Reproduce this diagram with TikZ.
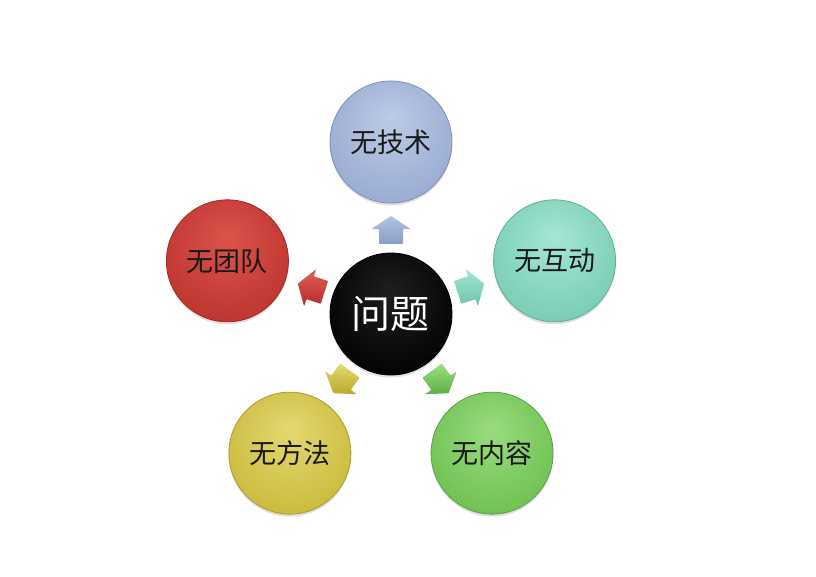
\documentclass[tikz,border=0pt]{standalone}
\usepackage{fontspec}
\newfontfamily\cjk{Noto Sans CJK SC}
\usetikzlibrary{shadows}
\definecolor{techIn}{HTML}{BCCBE6}\definecolor{techOut}{HTML}{95A8CF}
\definecolor{interIn}{HTML}{A6E6D4}\definecolor{interOut}{HTML}{74CBB2}
\definecolor{teamIn}{HTML}{DA544C}\definecolor{teamOut}{HTML}{BC322C}
\definecolor{methIn}{HTML}{E4D872}\definecolor{methOut}{HTML}{C8B838}
\definecolor{contIn}{HTML}{9ADC80}\definecolor{contOut}{HTML}{6BBE4E}
\definecolor{techAL}{HTML}{B4C4E0}\definecolor{techAD}{HTML}{8A9DC4}
\definecolor{interAL}{HTML}{A4E6D4}\definecolor{interAD}{HTML}{6CC4AC}
\definecolor{teamAL}{HTML}{E0615A}\definecolor{teamAD}{HTML}{B42C26}
\definecolor{methAL}{HTML}{E4D86E}\definecolor{methAD}{HTML}{BBA92E}
\definecolor{contAL}{HTML}{9CDE82}\definecolor{contAD}{HTML}{5DB045}
\colorlet{cinner}{black}\colorlet{couter}{black}
\pgfdeclareradialshading[cinner,couter]{bevel}{\pgfpoint{0bp}{10bp}}{color(0bp)=(cinner); color(33bp)=(couter); color(50bp)=(couter)}
\tikzset{
  ball/.style 2 args={circle, minimum size=122pt, inner sep=0pt,
    /utils/exec={\colorlet{cinner}{#1}\colorlet{couter}{#2}},
    shade, shading=bevel, draw=#2!85!black, line width=0.8pt,
    drop shadow={shadow xshift=0pt, shadow yshift=-2.5pt, opacity=0.12, fill=black, draw=none},
    font=\cjk\fontsize{27}{30}\selectfont, text=black!90},
  centerball/.style={ball={black!88}{black}, font=\cjk\fontsize{39}{42}\selectfont, text=white},
  arrowfill/.style 2 args={top color=#1, bottom color=#2, rounded corners=0.8pt}
}
\newcommand\blockarrow[3]{%
  \begin{scope}[shift={(#1:84)}, rotate=#1]
    \path[arrowfill={#2}{#3}] (-14,-12) -- (1,-12) -- (1,-19.5) -- (14,0) -- (1,19.5) -- (1,12) -- (-14,12) -- cycle;
  \end{scope}}
\begin{document}
\begin{tikzpicture}[x=1pt,y=1pt]
  \useasboundingbox (-391,-263) rectangle (425,314);
  \fill[white] (-391,-263) rectangle (425,314);
  \node[centerball] (ctr) at (0,0) {问题};
  \node[ball={techIn}{techOut}] (tech) at (90:172) {无技术};
  \node[ball={interIn}{interOut}] (inter) at (18:172) {无互动};
  \node[ball={teamIn}{teamOut}] (team) at (162:172) {无团队};
  \node[ball={methIn}{methOut}] (meth) at (234:172) {无方法};
  \node[ball={contIn}{contOut}] (cont) at (306:172) {无内容};
  \blockarrow{90}{techAL}{techAD}
  \blockarrow{18}{interAL}{interAD}
  \blockarrow{162}{teamAL}{teamAD}
  \blockarrow{234}{methAL}{methAD}
  \blockarrow{306}{contAL}{contAD}
\end{tikzpicture}
\end{document}
